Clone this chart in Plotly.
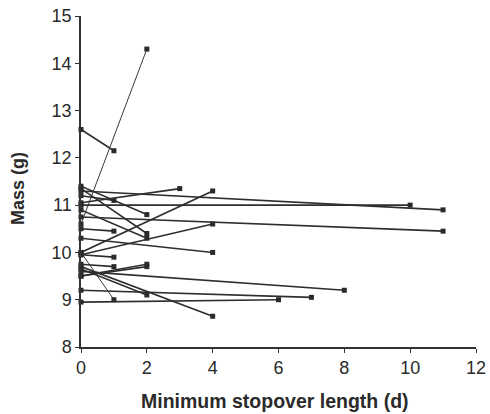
import plotly.graph_objects as go

# Each segment: start mass at day 0 -> mass at minimum stopover length
start_mass = [12.6, 11.4, 11.05, 11.2, 10.0, 11.0, 11.3, 10.75, 9.95, 10.3,
              11.35, 10.9, 10.5, 9.95, 9.5, 9.5, 9.75, 9.7, 9.6, 9.2,
              8.95, 9.65]
end_day = [1, 2, 3, 1, 4, 10, 11, 11, 4, 4,
           2, 2, 1, 1, 2, 2, 1, 4, 8, 7,
           6, 2]
end_mass = [12.15, 10.8, 11.35, 11.1, 11.3, 11.0, 10.9, 10.45, 10.6, 10.0,
            10.4, 10.3, 10.45, 9.9, 9.75, 9.7, 9.7, 8.65, 9.2, 9.05,
            9.0, 9.1]

# thinner segments
thin_start = [10.6, 10.0]
thin_day = [2, 1]
thin_end = [14.3, 9.0]

x_ticks = [0, 2, 4, 6, 8, 10, 12]
y_ticks = [8, 9, 10, 11, 12, 13, 14, 15]

def build(starts, days, ends):
    xs, ys = [], []
    for s, d, e in zip(starts, days, ends):
        xs += [0, d, None]
        ys += [s, e, None]
    return xs, ys

fig = go.Figure()
tx, ty = build(thin_start, thin_day, thin_end)
fig.add_trace(go.Scatter(x=tx, y=ty, mode="lines+markers",
                         line=dict(color="#3a3a3a", width=1),
                         marker=dict(symbol="square", size=5, color="#2a2a2a"),
                         cliponaxis=False, showlegend=False))
xs, ys = build(start_mass, end_day, end_mass)
fig.add_trace(go.Scatter(x=xs, y=ys, mode="lines+markers",
                         line=dict(color="#2e2e2e", width=1.6),
                         marker=dict(symbol="square", size=5, color="#2a2a2a"),
                         cliponaxis=False, showlegend=False))

font_family = "Liberation Sans, Arial, sans-serif"
fig.update_layout(
    width=490, height=414,
    margin=dict(l=81, r=14, t=16, b=67),
    paper_bgcolor="white", plot_bgcolor="white",
    font=dict(family=font_family, color="#2a2a2a"),
    xaxis=dict(range=[0, 12], tickvals=x_ticks, showgrid=False, zeroline=False,
               showline=True, linecolor="#333", linewidth=1.5,
               ticks="outside", ticklen=4, tickcolor="#333",
               tickfont=dict(size=18), automargin=False),
    yaxis=dict(range=[8, 15], tickvals=y_ticks, showgrid=False, zeroline=False,
               showline=True, linecolor="#333", linewidth=1.5,
               ticks="outside", ticklen=4, tickcolor="#333",
               tickfont=dict(size=18), automargin=False),
    annotations=[
        dict(text="<b>Minimum stopover length (d)</b>", xref="paper", yref="paper",
             x=0.49, y=-0.163, xanchor="center", yanchor="middle",
             showarrow=False, font=dict(size=19.5)),
        dict(text="<b>Mass (g)</b>", xref="paper", yref="paper",
             x=-0.16, y=0.48, xanchor="center", yanchor="middle", textangle=-90,
             showarrow=False, font=dict(size=18)),
    ],
)

fig.write_html("out.html")
